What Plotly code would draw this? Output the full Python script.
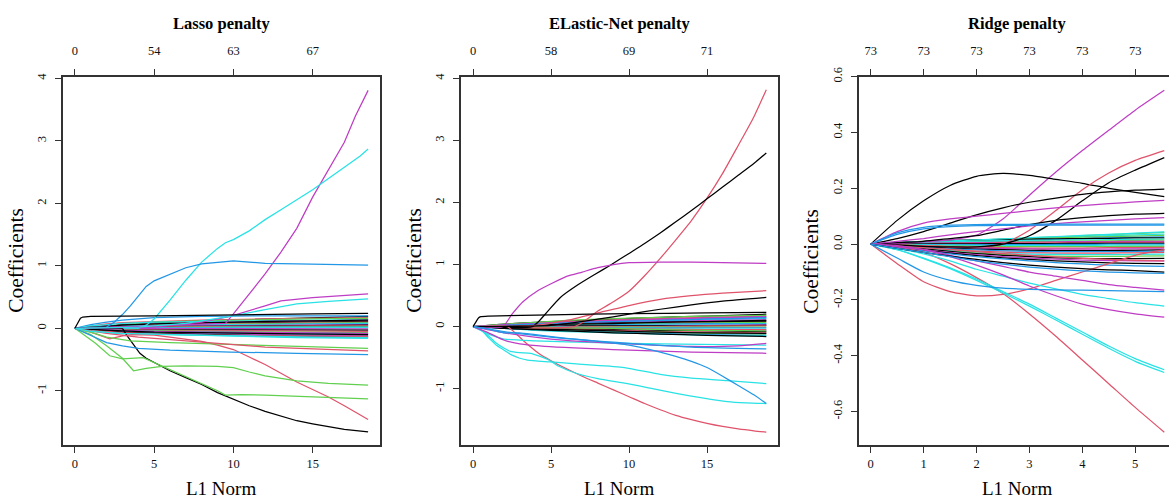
import plotly.graph_objects as go

W, H = 1169, 498
PALETTE = {"k": "#000000", "r": "#DF536B", "g": "#61D04F", "b": "#2297E6", "c": "#28E2E5", "m": "#BE3DC4"}

# ===================== LASSO =====================
LASSO_TOP_TICKS = [0, 5, 10, 15]
LASSO_TOP_LABELS = ["0", "54", "63", "67"]
LASSO_BOTTOM_TICKS = [0, 5, 10, 15]
LASSO_Y_TICKS = [-1, 0, 1, 2, 3, 4]

LASSO_BAND_X = [0, 0.5, 1, 2, 3, 5, 8, 12, 15, 18.5]
LASSO_BAND = [
    [0, 0.01, 0.02, 0.04, 0.06, 0.09, 0.12, 0.15, 0.17, 0.19],
    [0, 0.02, 0.04, 0.07, 0.09, 0.11, 0.13, 0.15, 0.16, 0.17],
    [0, 0.01, 0.03, 0.05, 0.07, 0.10, 0.12, 0.14, 0.15, 0.16],
    [0, 0.03, 0.06, 0.10, 0.13, 0.17, 0.19, 0.20, 0.20, 0.20],
    [0, 0.02, 0.04, 0.06, 0.08, 0.10, 0.11, 0.12, 0.13, 0.14],
    [0, 0.01, 0.02, 0.04, 0.05, 0.07, 0.09, 0.11, 0.12, 0.13],
    [0, 0.01, 0.02, 0.03, 0.05, 0.06, 0.08, 0.09, 0.10, 0.11],
    [0, 0.00, 0.01, 0.03, 0.04, 0.06, 0.07, 0.08, 0.09, 0.10],
    [0, 0.01, 0.01, 0.02, 0.03, 0.05, 0.06, 0.07, 0.08, 0.09],
    [0, 0.00, 0.01, 0.02, 0.03, 0.04, 0.05, 0.06, 0.07, 0.08],
    [0, 0.01, 0.02, 0.03, 0.04, 0.05, 0.06, 0.06, 0.07, 0.07],
    [0, 0.00, 0.01, 0.02, 0.02, 0.03, 0.04, 0.05, 0.05, 0.06],
    [0, 0.00, 0.00, 0.01, 0.02, 0.03, 0.03, 0.04, 0.05, 0.05],
    [0, 0.00, 0.01, 0.01, 0.02, 0.02, 0.03, 0.03, 0.04, 0.04],
    [0, 0.00, 0.00, 0.00, 0.01, 0.01, 0.02, 0.02, 0.03, 0.03],
    [0, 0.00, 0.00, 0.01, 0.01, 0.01, 0.01, 0.02, 0.02, 0.02],
    [0, 0.00, 0.00, 0.00, 0.00, 0.00, 0.01, 0.01, 0.01, 0.01],
    [0, 0.00, 0.00, -0.01, -0.01, -0.01, -0.01, -0.01, -0.01, -0.01],
    [0, 0.00, -0.01, -0.01, -0.02, -0.02, -0.02, -0.03, -0.03, -0.03],
    [0, -0.01, -0.01, -0.02, -0.03, -0.03, -0.04, -0.04, -0.05, -0.05],
    [0, 0.00, -0.01, -0.02, -0.03, -0.04, -0.05, -0.06, -0.06, -0.07],
    [0, -0.01, -0.02, -0.03, -0.04, -0.05, -0.06, -0.07, -0.08, -0.09],
    [0, -0.01, -0.02, -0.04, -0.05, -0.07, -0.08, -0.09, -0.10, -0.11],
    [0, -0.01, -0.03, -0.05, -0.06, -0.08, -0.09, -0.10, -0.11, -0.12],
    [0, -0.01, -0.02, -0.04, -0.06, -0.08, -0.10, -0.12, -0.13, -0.14],
    [0, -0.02, -0.03, -0.05, -0.07, -0.09, -0.11, -0.12, -0.13, -0.13],
    [0, -0.02, -0.04, -0.07, -0.09, -0.10, -0.11, -0.13, -0.14, -0.15],
    [0, 0.00, 0.01, 0.03, 0.05, 0.07, 0.09, 0.11, 0.12, 0.13],
    [0, 0.00, -0.01, -0.02, -0.03, -0.05, -0.06, -0.07, -0.08, -0.08],
    [0, -0.01, -0.02, -0.03, -0.04, -0.06, -0.07, -0.08, -0.09, -0.10],
]
LASSO_BAND_COLORS = ["k", "r", "g", "b", "c", "m", "k", "r", "g", "b", "c", "m", "k", "r", "g",
                     "b", "c", "m", "k", "r", "g", "b", "c", "m", "k", "r", "c", "k", "m", "k"]

LASSO_PATH_X = [
    [0, 9.5, 10, 11, 12, 13, 14, 15, 16, 17, 17.7, 18.5],
    [0, 4, 4.5, 5, 6, 7, 8, 9, 9.5, 10, 11, 12, 13, 14, 15, 16, 17, 18, 18.5],
    [0, 2, 2.5, 3, 3.5, 4, 4.5, 5, 6, 7, 8, 9, 10, 11, 12, 14, 16, 18.5],
    [0, 3, 3.3, 3.7, 4.1, 4.5, 5, 6, 7, 8, 9, 10, 11, 12, 13, 14, 15, 16, 17, 18.5],
    [0, 1, 2.2, 3, 3.6, 5, 6, 7, 8, 9, 10, 11, 12, 13, 14, 15, 16, 17, 18, 18.5],
    [0, 1, 2, 3, 3.7, 4.5, 5.5, 7, 9, 10, 11, 12, 13, 14, 16, 18.5],
    [0, 1.3, 2.2, 3, 4.3, 5, 6, 7, 8, 9, 9.5, 10.5, 12, 14, 16, 18.5],
    [0, 1, 2, 3.5, 6, 9.8, 14, 18.5],
    [0, 1, 2, 3, 4, 6, 9.8, 14, 18.5],
    [0, 2, 4, 8, 12, 18.5],
    [0, 5, 8, 9.8, 12, 13, 15, 18.5],
    [0, 4, 7, 10, 12, 14, 16, 18.5],
    [0, 1, 3, 6, 10, 14, 18.5],
    [0, 0.2, 0.35, 0.5, 1, 5, 10, 15, 18.5],
]
LASSO_PATH_Y = [
    [0, 0.08, 0.23, 0.55, 0.87, 1.22, 1.60, 2.10, 2.55, 2.98, 3.40, 3.81],
    [0, 0.0, 0.05, 0.15, 0.45, 0.77, 1.06, 1.28, 1.37, 1.42, 1.56, 1.74, 1.90, 2.06, 2.22, 2.40, 2.58, 2.76, 2.87],
    [0, 0.02, 0.10, 0.22, 0.36, 0.52, 0.67, 0.76, 0.87, 0.97, 1.03, 1.06, 1.08, 1.06, 1.04, 1.03, 1.02, 1.01],
    [0, 0.0, -0.12, -0.27, -0.40, -0.48, -0.55, -0.68, -0.79, -0.90, -1.03, -1.14, -1.24, -1.33, -1.41, -1.48, -1.53, -1.58, -1.62, -1.66],
    [0, -0.06, -0.17, -0.12, -0.10, -0.11, -0.14, -0.17, -0.21, -0.27, -0.34, -0.46, -0.58, -0.72, -0.86, -0.98, -1.10, -1.24, -1.38, -1.46],
    [0, -0.10, -0.28, -0.48, -0.68, -0.64, -0.61, -0.60, -0.61, -0.63, -0.70, -0.76, -0.80, -0.84, -0.88, -0.91],
    [0, -0.24, -0.44, -0.49, -0.47, -0.55, -0.66, -0.77, -0.89, -1.00, -1.07, -1.06, -1.07, -1.09, -1.11, -1.13],
    [0, -0.06, -0.14, -0.20, -0.23, -0.26, -0.29, -0.32],
    [0, -0.11, -0.23, -0.28, -0.32, -0.35, -0.38, -0.40, -0.42],
    [0, -0.08, -0.14, -0.22, -0.30, -0.36],
    [0, 0.02, 0.10, 0.19, 0.36, 0.44, 0.49, 0.55],
    [0, 0.02, 0.08, 0.20, 0.30, 0.39, 0.43, 0.47],
    [0, -0.05, -0.08, -0.10, -0.13, -0.15, -0.16],
    [0, 0.10, 0.16, 0.18, 0.19, 0.20, 0.21, 0.23, 0.24],
]
LASSO_PATH_COLORS = ["m", "c", "b", "k", "r", "g", "g", "g", "b", "r", "m", "c", "c", "k"]

# ===================== ELASTIC-NET =====================
EN_TOP_TICKS = [0, 5, 10, 15]
EN_TOP_LABELS = ["0", "58", "69", "71"]
EN_BOTTOM_TICKS = [0, 5, 10, 15]
EN_Y_TICKS = [-1, 0, 1, 2, 3, 4]

EN_BAND_X = [0, 1, 2, 4, 6, 9, 12, 15, 18.8]
EN_BAND = [
    [0, 0.02, 0.04, 0.07, 0.09, 0.12, 0.15, 0.17, 0.20],
    [0, 0.01, 0.03, 0.06, 0.08, 0.11, 0.13, 0.15, 0.17],
    [0, 0.02, 0.04, 0.07, 0.10, 0.13, 0.15, 0.17, 0.18],
    [0, 0.01, 0.02, 0.04, 0.06, 0.09, 0.11, 0.13, 0.15],
    [0, 0.01, 0.02, 0.03, 0.05, 0.07, 0.09, 0.11, 0.13],
    [0, 0.01, 0.02, 0.04, 0.05, 0.07, 0.08, 0.10, 0.11],
    [0, 0.00, 0.01, 0.03, 0.04, 0.06, 0.07, 0.08, 0.10],
    [0, 0.01, 0.01, 0.02, 0.03, 0.05, 0.06, 0.07, 0.08],
    [0, 0.00, 0.01, 0.02, 0.03, 0.04, 0.05, 0.06, 0.07],
    [0, 0.00, 0.01, 0.01, 0.02, 0.03, 0.04, 0.05, 0.05],
    [0, 0.00, 0.00, 0.01, 0.02, 0.02, 0.03, 0.03, 0.04],
    [0, 0.00, 0.00, 0.01, 0.01, 0.01, 0.02, 0.02, 0.03],
    [0, 0.00, 0.00, 0.00, 0.01, 0.01, 0.01, 0.01, 0.02],
    [0, 0.00, 0.00, 0.00, 0.00, 0.00, 0.00, 0.01, 0.01],
    [0, 0.00, 0.00, 0.00, -0.01, -0.01, -0.01, -0.01, -0.01],
    [0, 0.00, -0.01, -0.01, -0.01, -0.02, -0.02, -0.02, -0.02],
    [0, -0.01, -0.01, -0.02, -0.02, -0.03, -0.03, -0.04, -0.04],
    [0, 0.00, -0.01, -0.02, -0.03, -0.04, -0.05, -0.05, -0.06],
    [0, -0.01, -0.02, -0.03, -0.04, -0.05, -0.06, -0.07, -0.08],
    [0, -0.01, -0.02, -0.03, -0.05, -0.06, -0.08, -0.09, -0.10],
    [0, -0.01, -0.02, -0.04, -0.06, -0.08, -0.09, -0.11, -0.12],
    [0, -0.01, -0.03, -0.05, -0.07, -0.09, -0.11, -0.13, -0.14],
    [0, -0.02, -0.03, -0.06, -0.08, -0.10, -0.12, -0.14, -0.15],
    [0, -0.01, -0.03, -0.05, -0.07, -0.10, -0.12, -0.14, -0.16],
    [0, 0.01, 0.03, 0.05, 0.07, 0.10, 0.12, 0.14, 0.16],
    [0, 0.00, 0.01, 0.02, 0.04, 0.05, 0.07, 0.08, 0.09],
    [0, 0.00, -0.01, -0.01, -0.02, -0.03, -0.04, -0.05, -0.05],
    [0, -0.01, -0.02, -0.04, -0.05, -0.07, -0.09, -0.10, -0.11],
    [0, 0.01, 0.02, 0.04, 0.06, 0.08, 0.10, 0.12, 0.14],
    [0, 0.00, 0.00, -0.01, -0.02, -0.03, -0.05, -0.06, -0.07],
]
EN_BAND_COLORS = ["k", "r", "g", "b", "c", "m", "k", "r", "g", "b", "c", "m", "k", "r", "g",
                  "b", "c", "m", "k", "r", "g", "b", "c", "k", "m", "k", "r", "k", "b", "g"]

EN_PATH_X = [
    [0, 6.5, 7.1, 8, 9, 10, 11, 12, 13, 14, 15, 16, 17, 18, 18.8],
    [0, 3.8, 4.2, 4.8, 5.6, 6.7, 7.8, 8.8, 10, 11, 12, 13, 14, 15, 16, 17, 18, 18.8],
    [0, 1.9, 2.5, 3.2, 4.1, 5, 6, 7, 8, 9, 10, 12, 14, 16, 18.8],
    [0, 2.2, 2.7, 3.2, 3.7, 4.2, 5, 6, 7, 8, 9, 10, 11, 12, 13, 14, 15, 16, 17, 18, 18.8],
    [0, 4, 6, 8, 10, 12, 14, 16, 18.8],
    [0, 5, 8, 10, 12, 14, 16, 18.8],
    [0, 0.5, 1, 1.5, 2, 2.5, 3, 3.5, 5, 7, 9.7, 12, 14, 16.3, 18.8],
    [0, 0.5, 1, 1.5, 2, 2.4, 3, 3.7, 4.8, 5.5, 6.7, 8, 9.9, 11.5, 13.1, 14.7, 16.3, 17.5, 18.8],
    [0, 1, 2, 4, 8, 12, 18.8],
    [0, 1, 2, 3, 4.6, 10, 14, 18.8],
    [0, 2, 5, 10, 14, 17, 18.8],
    [0, 1, 2, 3, 4, 6, 8, 10, 11, 12, 13, 14, 15, 16, 17, 18, 18.8],
    [0, 2, 5, 10, 14, 18.8],
    [0, 0.2, 0.35, 0.5, 1, 5, 10, 15, 18.8],
]
EN_PATH_Y = [
    [0, 0.0, 0.08, 0.25, 0.40, 0.57, 0.82, 1.10, 1.40, 1.71, 2.07, 2.47, 2.92, 3.38, 3.82],
    [0, 0.0, 0.08, 0.25, 0.47, 0.67, 0.84, 0.99, 1.18, 1.34, 1.51, 1.69, 1.87, 2.06, 2.25, 2.44, 2.63, 2.80],
    [0, 0.0, 0.20, 0.40, 0.57, 0.69, 0.81, 0.88, 0.95, 1.00, 1.03, 1.04, 1.04, 1.03, 1.02],
    [0, 0.0, -0.10, -0.22, -0.33, -0.43, -0.55, -0.68, -0.80, -0.91, -1.02, -1.13, -1.24, -1.34, -1.43, -1.50, -1.56, -1.61, -1.65, -1.68, -1.70],
    [0, 0.02, 0.10, 0.22, 0.34, 0.44, 0.50, 0.54, 0.58],
    [0, 0.02, 0.12, 0.20, 0.28, 0.35, 0.41, 0.47],
    [0, -0.05, -0.18, -0.30, -0.38, -0.46, -0.51, -0.54, -0.57, -0.61, -0.66, -0.77, -0.83, -0.87, -0.92],
    [0, -0.05, -0.15, -0.27, -0.35, -0.40, -0.42, -0.43, -0.53, -0.64, -0.76, -0.84, -0.92, -1.00, -1.08, -1.15, -1.21, -1.23, -1.24],
    [0, -0.12, -0.20, -0.23, -0.26, -0.28, -0.30],
    [0, -0.10, -0.22, -0.28, -0.32, -0.38, -0.41, -0.43],
    [0, -0.10, -0.20, -0.28, -0.32, -0.31, -0.27],
    [0, -0.04, -0.10, -0.10, -0.13, -0.19, -0.24, -0.30, -0.35, -0.41, -0.48, -0.56, -0.66, -0.80, -0.95, -1.10, -1.24],
    [0, -0.08, -0.17, -0.27, -0.33, -0.36],
    [0, 0.08, 0.14, 0.16, 0.17, 0.19, 0.21, 0.22, 0.23],
]
EN_PATH_COLORS = ["r", "k", "m", "r", "r", "k", "c", "c", "c", "m", "m", "b", "b", "k"]

# ===================== RIDGE =====================
RIDGE_TOP_TICKS = [0, 1, 2, 3, 4, 5]
RIDGE_TOP_LABELS = ["73", "73", "73", "73", "73", "73"]
RIDGE_BOTTOM_TICKS = [0, 1, 2, 3, 4, 5]
RIDGE_Y_TICKS = [-0.6, -0.4, -0.2, 0.0, 0.2, 0.4, 0.6]
RIDGE_Y_LABELS = ["-0.6", "-0.4", "-0.2", "0.0", "0.2", "0.4", "0.6"]

RIDGE_X = [0, 0.5, 1, 1.5, 2, 2.5, 3, 3.5, 4, 4.5, 5, 5.55]
RIDGE_BAND = [
    [0, 0.003, 0.006, 0.010, 0.014, 0.018, 0.022, 0.026, 0.030, 0.034, 0.038, 0.042],
    [0, 0.002, 0.005, 0.008, 0.012, 0.015, 0.019, 0.023, 0.027, 0.030, 0.033, 0.036],
    [0, 0.004, 0.008, 0.011, 0.014, 0.017, 0.020, 0.023, 0.025, 0.027, 0.029, 0.031],
    [0, 0.002, 0.004, 0.006, 0.008, 0.011, 0.014, 0.017, 0.020, 0.022, 0.024, 0.026],
    [0, 0.006, 0.010, 0.013, 0.015, 0.017, 0.018, 0.019, 0.020, 0.021, 0.022, 0.022],
    [0, 0.003, 0.006, 0.008, 0.010, 0.012, 0.013, 0.014, 0.015, 0.016, 0.017, 0.018],
    [0, 0.001, 0.003, 0.004, 0.006, 0.007, 0.009, 0.010, 0.011, 0.012, 0.013, 0.014],
    [0, 0.002, 0.003, 0.004, 0.005, 0.006, 0.007, 0.008, 0.009, 0.009, 0.010, 0.010],
    [0, 0.001, 0.002, 0.002, 0.003, 0.004, 0.004, 0.005, 0.005, 0.006, 0.006, 0.006],
    [0, 0.000, 0.001, 0.001, 0.001, 0.002, 0.002, 0.002, 0.003, 0.003, 0.003, 0.003],
    [0, -0.001, -0.001, -0.002, -0.002, -0.002, -0.002, -0.001, -0.001, 0.000, 0.000, 0.000],
    [0, -0.002, -0.003, -0.004, -0.005, -0.005, -0.005, -0.005, -0.005, -0.004, -0.004, -0.004],
    [0, -0.003, -0.005, -0.007, -0.008, -0.009, -0.009, -0.009, -0.009, -0.009, -0.008, -0.008],
    [0, -0.003, -0.006, -0.009, -0.011, -0.013, -0.014, -0.014, -0.014, -0.013, -0.013, -0.012],
    [0, -0.004, -0.008, -0.011, -0.014, -0.016, -0.017, -0.018, -0.018, -0.018, -0.017, -0.017],
    [0, -0.005, -0.010, -0.014, -0.018, -0.020, -0.022, -0.023, -0.023, -0.023, -0.022, -0.021],
    [0, -0.006, -0.012, -0.017, -0.021, -0.024, -0.026, -0.027, -0.027, -0.027, -0.026, -0.025],
    [0, -0.007, -0.014, -0.020, -0.025, -0.029, -0.031, -0.032, -0.032, -0.032, -0.031, -0.030],
    [0, -0.008, -0.016, -0.023, -0.029, -0.033, -0.036, -0.037, -0.038, -0.038, -0.037, -0.036],
    [0, -0.009, -0.018, -0.026, -0.032, -0.037, -0.041, -0.043, -0.044, -0.044, -0.043, -0.042],
    [0, -0.008, -0.017, -0.026, -0.034, -0.040, -0.045, -0.049, -0.051, -0.052, -0.052, -0.051],
    [0, -0.010, -0.020, -0.030, -0.038, -0.045, -0.050, -0.054, -0.057, -0.059, -0.060, -0.060],
    [0, -0.006, -0.013, -0.020, -0.027, -0.034, -0.040, -0.046, -0.051, -0.055, -0.058, -0.060],
    [0, -0.011, -0.022, -0.032, -0.041, -0.049, -0.055, -0.060, -0.064, -0.067, -0.069, -0.070],
    [0, -0.012, -0.024, -0.035, -0.045, -0.053, -0.060, -0.066, -0.071, -0.075, -0.078, -0.080],
    [0, 0.005, 0.009, 0.012, 0.015, 0.019, 0.023, 0.027, 0.031, 0.035, 0.039, 0.044],
]
RIDGE_BAND_COLORS = ["g", "c", "g", "b", "k", "c", "g", "m", "r", "k", "b", "c", "g", "r", "m",
                     "k", "b", "r", "c", "g", "k", "m", "r", "k", "b", "c"]

RIDGE_PATHS = [
    [0, 0.003, 0.008, 0.015, 0.032, 0.090, 0.175, 0.258, 0.335, 0.408, 0.480, 0.551],
    [0, 0.085, 0.155, 0.210, 0.243, 0.253, 0.246, 0.232, 0.218, 0.200, 0.185, 0.170],
    [0, -0.003, -0.006, -0.010, -0.010, 0.000, 0.050, 0.120, 0.195, 0.255, 0.300, 0.335],
    [0, -0.003, -0.008, -0.010, -0.010, 0.000, 0.030, 0.085, 0.155, 0.220, 0.265, 0.310],
    [0, 0.020, 0.045, 0.075, 0.105, 0.130, 0.150, 0.165, 0.178, 0.187, 0.193, 0.197],
    [0, 0.045, 0.075, 0.090, 0.100, 0.110, 0.120, 0.130, 0.138, 0.145, 0.151, 0.157],
    [0, 0.005, 0.010, 0.020, 0.030, 0.050, 0.070, 0.085, 0.095, 0.102, 0.107, 0.110],
    [0, 0.010, 0.020, 0.033, 0.045, 0.055, 0.065, 0.073, 0.080, 0.085, 0.090, 0.095],
    [0, 0.040, 0.060, 0.068, 0.070, 0.071, 0.071, 0.072, 0.072, 0.072, 0.072, 0.072],
    [0, 0.035, 0.055, 0.063, 0.066, 0.067, 0.068, 0.068, 0.068, 0.068, 0.068, 0.068],
    [0, -0.010, -0.030, -0.070, -0.120, -0.177, -0.250, -0.330, -0.415, -0.500, -0.585, -0.674],
    [0, -0.070, -0.135, -0.170, -0.185, -0.180, -0.160, -0.130, -0.100, -0.070, -0.040, -0.020],
    [0, -0.020, -0.050, -0.085, -0.125, -0.170, -0.215, -0.265, -0.315, -0.365, -0.410, -0.450],
    [0, -0.020, -0.052, -0.088, -0.130, -0.175, -0.222, -0.272, -0.323, -0.373, -0.420, -0.460],
    [0, -0.015, -0.035, -0.060, -0.090, -0.115, -0.140, -0.160, -0.180, -0.195, -0.210, -0.222],
    [0, -0.005, -0.020, -0.045, -0.075, -0.110, -0.150, -0.185, -0.215, -0.235, -0.250, -0.262],
    [0, -0.010, -0.020, -0.040, -0.060, -0.080, -0.100, -0.115, -0.130, -0.145, -0.155, -0.165],
    [0, -0.050, -0.100, -0.130, -0.148, -0.158, -0.162, -0.164, -0.165, -0.167, -0.168, -0.170],
    [0, -0.015, -0.030, -0.043, -0.055, -0.066, -0.075, -0.082, -0.088, -0.092, -0.095, -0.100],
    [0, -0.015, -0.030, -0.045, -0.060, -0.072, -0.082, -0.090, -0.096, -0.100, -0.103, -0.105],
]
RIDGE_PATH_COLORS = ["m", "k", "r", "k", "k", "m", "k", "m", "b", "b", "r", "r", "c", "c", "c",
                     "m", "m", "b", "k", "b"]

TITLES = ["Lasso penalty", "ELastic-Net penalty", "Ridge penalty"]
X_TITLE = "L1 Norm"
Y_TITLE = "Coefficients"

# ===================== FIGURE =====================
SERIF = "Liberation Serif, Times New Roman, serif"
FRAME = "#333333"
LW = 1.25

fig = go.Figure()

def add_lines(xs_list, ys_list, cols, xa, ya, shape="linear"):
    for xs, ys, c in zip(xs_list, ys_list, cols):
        assert len(xs) == len(ys), (xa, xs, ys)
        fig.add_trace(go.Scatter(x=xs, y=ys, mode="lines", xaxis=xa, yaxis=ya,
                                 line=dict(color=PALETTE[c], width=LW, shape=shape, smoothing=0.6),
                                 hoverinfo="skip", showlegend=False))

add_lines([LASSO_BAND_X] * len(LASSO_BAND), LASSO_BAND, LASSO_BAND_COLORS, "x", "y")
add_lines(LASSO_PATH_X, LASSO_PATH_Y, LASSO_PATH_COLORS, "x", "y")
add_lines([EN_BAND_X] * len(EN_BAND), EN_BAND, EN_BAND_COLORS, "x2", "y2", "spline")
add_lines(EN_PATH_X, EN_PATH_Y, EN_PATH_COLORS, "x2", "y2", "spline")
add_lines([RIDGE_X] * len(RIDGE_BAND), RIDGE_BAND, RIDGE_BAND_COLORS, "x3", "y3", "spline")
add_lines([RIDGE_X] * len(RIDGE_PATHS), RIDGE_PATHS, RIDGE_PATH_COLORS, "x3", "y3", "spline")

# invisible traces for top axes
for xa, ya in (("x4", "y"), ("x5", "y2"), ("x6", "y3")):
    fig.add_trace(go.Scatter(x=[0], y=[0], mode="markers", xaxis=xa, yaxis=ya,
                             marker=dict(opacity=0), hoverinfo="skip", showlegend=False))

px = lambda p: p / W
py = lambda p: 1 - p / H

YDOM = [py(444), py(68)]
panels = [
    dict(dom=[px(63), px(380)], xr=[-0.75, 19.25], yr=[-1.87, 4.03],
         bt=LASSO_BOTTOM_TICKS, tt=LASSO_TOP_TICKS, tl=LASSO_TOP_LABELS,
         yt=LASSO_Y_TICKS, yl=[str(v) for v in LASSO_Y_TICKS], mirror=True, cx=221, ylab=16),
    dict(dom=[px(461), px(778)], xr=[-0.77, 19.55], yr=[-1.91, 4.03],
         bt=EN_BOTTOM_TICKS, tt=EN_TOP_TICKS, tl=EN_TOP_LABELS,
         yt=EN_Y_TICKS, yl=[str(v) for v in EN_Y_TICKS], mirror=True, cx=619, ylab=414),
    dict(dom=[px(859), 1.0], xr=[-0.222, 5.639], yr=[-0.72, 0.60],
         bt=RIDGE_BOTTOM_TICKS, tt=RIDGE_TOP_TICKS, tl=RIDGE_TOP_LABELS,
         yt=RIDGE_Y_TICKS, yl=RIDGE_Y_LABELS, mirror=False, cx=1017, ylab=811),
]

tickfont = dict(family=SERIF, size=12.5, color="#111")
layout = dict(width=W, height=H, margin=dict(l=0, r=0, t=0, b=0),
              paper_bgcolor="white", plot_bgcolor="white", showlegend=False)
annotations = []
for i, p in enumerate(panels):
    n = i + 1
    sx = "" if n == 1 else str(n)
    common = dict(showgrid=False, zeroline=False, showline=True, linecolor=FRAME, linewidth=1.7,
                  ticks="outside", ticklen=6, tickwidth=1.1, tickcolor=FRAME, tickfont=tickfont)
    layout["xaxis" + sx] = dict(domain=p["dom"], range=p["xr"], anchor="y" + sx,
                                tickmode="array", tickvals=p["bt"],
                                ticktext=[str(v) for v in p["bt"]], **common)
    layout["yaxis" + sx] = dict(domain=YDOM, range=p["yr"], anchor="x" + sx,
                                tickmode="array", tickvals=p["yt"], ticktext=p["yl"],
                                tickangle=-90, mirror=p["mirror"], ticklabelstandoff=4, **common)
    layout["xaxis" + str(n + 3)] = dict(range=p["xr"], overlaying="x" + sx, anchor="y" + sx,
                                        side="top", tickmode="array", tickvals=p["tt"],
                                        ticktext=p["tl"], ticklabelstandoff=9, **common)
    annotations.append(dict(text="<b>" + TITLES[i] + "</b>", x=px(p["cx"]), y=py(14),
                            xref="paper", yref="paper", showarrow=False,
                            xanchor="center", yanchor="middle",
                            font=dict(family=SERIF, size=16.5, color="#000")))
    annotations.append(dict(text=X_TITLE, x=px(p["cx"]), y=py(488),
                            xref="paper", yref="paper", showarrow=False,
                            xanchor="center", yanchor="middle",
                            font=dict(family=SERIF, size=19, color="#000")))
    annotations.append(dict(text=Y_TITLE, x=px(p["ylab"]), y=py(256), textangle=-90,
                            xref="paper", yref="paper", showarrow=False,
                            xanchor="center", yanchor="middle",
                            font=dict(family=SERIF, size=21.5, color="#000")))
layout["annotations"] = annotations
fig.update_layout(**layout)
fig.write_html("out.html")
